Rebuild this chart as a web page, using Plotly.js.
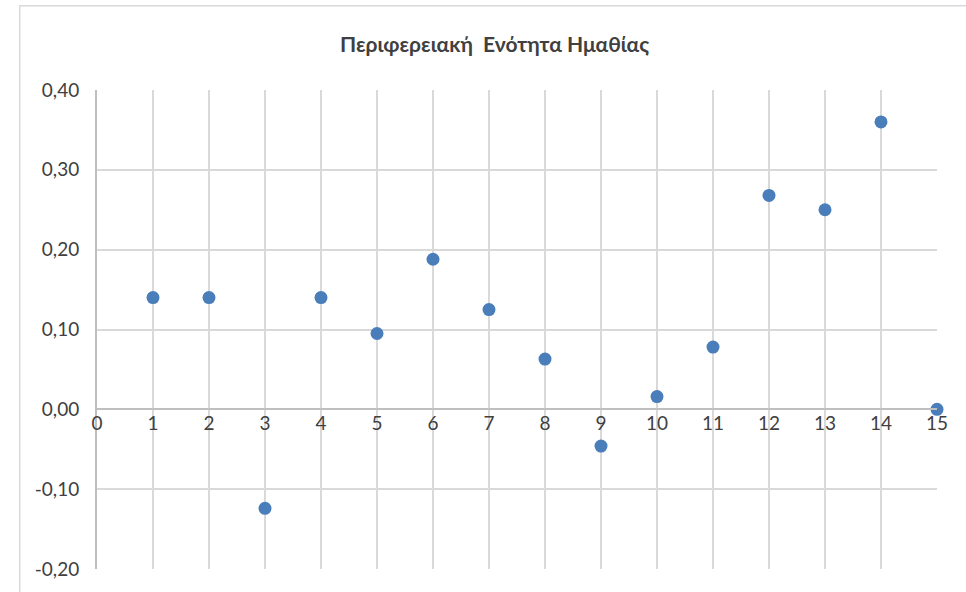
<!DOCTYPE html>
<html><head><meta charset="utf-8">
<script src="https://cdn.plot.ly/plotly-3.0.1.min.js"></script>
<style>html,body{margin:0;padding:0;background:#fff;}#chart{width:966px;height:592px;}</style>
</head><body><div id="chart"></div>
<script>
const xValues = [1,2,3,4,5,6,7,8,9,10,11,12,13,14,15];
const yValues = [0.14,0.14,-0.124,0.14,0.095,0.188,0.125,0.063,-0.046,0.016,0.078,0.268,0.25,0.36,0.0];
const xTicks = [0,1,2,3,4,5,6,7,8,9,10,11,12,13,14,15];
const yTicks = [-0.2,-0.1,0,0.1,0.2,0.3,0.4];
const yTickText = ['-0,20','-0,10','0,00','0,10','0,20','0,30','0,40'];
const titleText = 'Περιφερειακή  Ενότητα Ημαθίας';

const fontFam = 'Lato, "Open Sans", sans-serif';
const data = [{
  x: xValues, y: yValues, type: 'scatter', mode: 'markers', cliponaxis: false,
  marker: {size: 13, color: '#4a7ebb'}, hoverinfo: 'x+y'
}];
const layout = {
  width: 966, height: 592,
  margin: {l: 97, r: 29, t: 90, b: 23},
  paper_bgcolor: '#fff', plot_bgcolor: '#fff',
  separators: ',.',
  showlegend: false,
  title: {text: '<b>' + titleText + '</b>', x: 0.512, xanchor: 'center', y: 0.924, yanchor: 'middle',
    font: {family: fontFam, size: 21, color: '#404040'}},
  xaxis: {range: [0, 15], tickvals: xTicks, ticktext: xTicks.map(String),
    anchor: 'free', position: 1/3, showline: true, linecolor: '#bfbfbf', linewidth: 2,
    showgrid: true, gridcolor: '#d9d9d9', gridwidth: 2, zeroline: false, ticks: '',
    ticklabelstandoff: -3,
    tickfont: {family: fontFam, size: 19, color: '#404040'}},
  yaxis: {range: [-0.2, 0.4], tickvals: yTicks, ticktext: yTickText,
    showline: true, linecolor: '#bfbfbf', linewidth: 2,
    showgrid: true, gridcolor: '#d9d9d9', gridwidth: 2, zeroline: false, ticks: '',
    ticklabelstandoff: 12,
    tickfont: {family: fontFam, size: 19, color: '#404040'}},
  shapes: [{type: 'rect', xref: 'paper', yref: 'paper', x0: -0.092, x1: 1.05, y0: -0.05, y1: 1.176,
    line: {color: '#d9d9d9', width: 1.5}, fillcolor: 'rgba(0,0,0,0)', layer: 'below'}]
};
Plotly.newPlot('chart', data, layout, {displayModeBar: false, staticPlot: true});
</script></body></html>
